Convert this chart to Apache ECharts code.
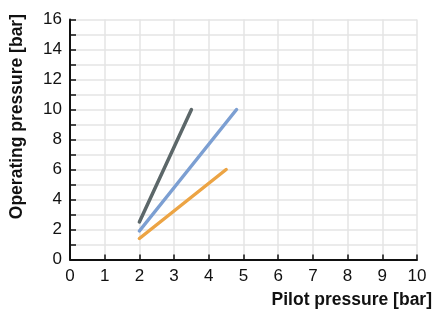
<!DOCTYPE html>
<html>
<head>
<meta charset="utf-8">
<script src="https://cdn.jsdelivr.net/npm/echarts@6/dist/echarts.min.js"></script>
<style>
html,body{margin:0;padding:0;background:#fff;}
#c{width:433px;height:314px;}
</style>
</head>
<body>
<div id="c"></div>
<script>
const xAxisName = 'Pilot pressure [bar]';
const yAxisName = 'Operating pressure [bar]';
const grayLine = [[2, 2.5], [3.5, 10]];
const blueLine = [[2, 1.9], [4.8, 10]];
const orangeLine = [[2, 1.4], [4.5, 6]];

const chart = echarts.init(document.getElementById('c'), null, {renderer: 'canvas'});
const font = '"Liberation Sans", Arial, Helvetica, sans-serif';
function mk(data, color) {
  return {
    type: 'line', data: data, symbol: 'none', silent: true,
    lineStyle: {color: color, width: 3.5, cap: 'round'}
  };
}
chart.setOption({
  animation: false,
  backgroundColor: '#fff',
  grid: {left: 70, top: 19.5, right: 16, bottom: 54.5, containLabel: false},
  xAxis: {
    type: 'value', min: 0, max: 10, interval: 1,
    axisLine: {show: true, onZero: false, lineStyle: {color: '#111', width: 2}},
    axisTick: {show: true, inside: true, length: 5, lineStyle: {color: '#111', width: 1.5}},
    axisLabel: {fontFamily: font, fontSize: 17, color: '#111', margin: 8},
    splitLine: {show: true, lineStyle: {color: '#e4e4e4', width: 1.5}}
  },
  yAxis: {
    type: 'value', min: 0, max: 16, interval: 1,
    axisLine: {show: true, onZero: false, lineStyle: {color: '#111', width: 2}},
    axisTick: {show: true, inside: true, length: 6, lineStyle: {color: '#111', width: 1.5}},
    axisLabel: {fontFamily: font, fontSize: 17, color: '#111', margin: 8,
      formatter: v => (v % 2 === 0 ? String(v) : '')},
    splitLine: {show: true, lineStyle: {color: '#e4e4e4', width: 1.5}}
  },
  graphic: [{
    type: 'text', left: 8, top: 14, rotation: Math.PI / 2,
    style: {text: yAxisName, font: 'bold 17.5px ' + font, fill: '#111'}
  }, {
    type: 'text', right: 1, top: 291,
    style: {text: xAxisName, font: 'bold 17.5px ' + font, fill: '#111'}
  }],
  series: [mk(grayLine, '#5c6769'), mk(blueLine, '#7c9fd2'), mk(orangeLine, '#eca444')]
});
</script>
</body>
</html>
